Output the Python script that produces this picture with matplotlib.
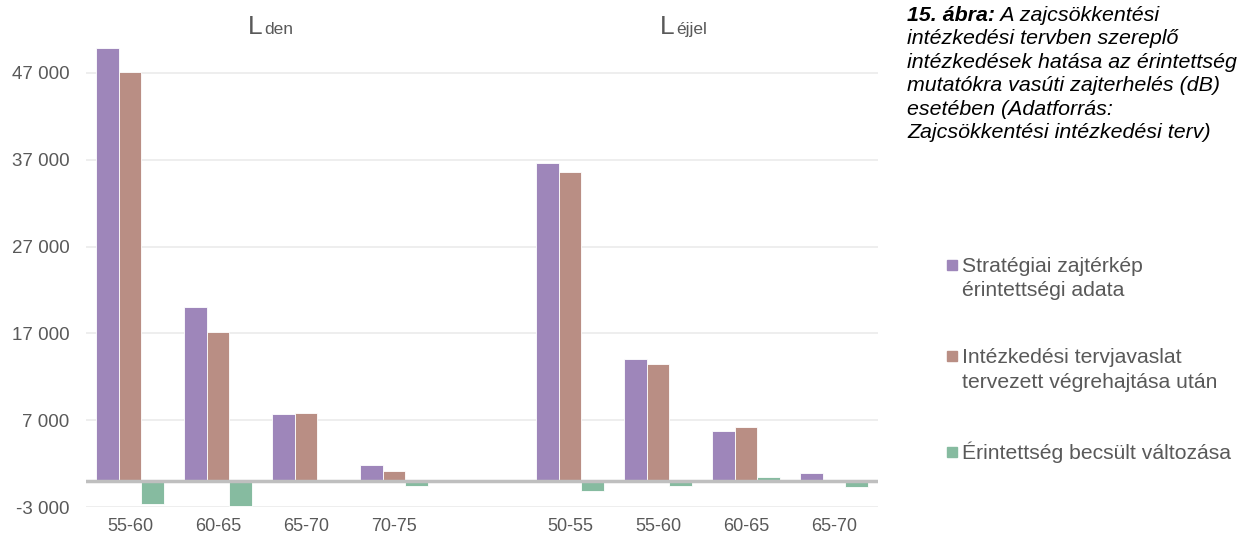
import numpy as np
import matplotlib.pyplot as plt
from matplotlib.patches import Rectangle

plt.rcParams['font.family'] = ['Liberation Sans', 'DejaVu Sans']

# adatok
kategoriak = ['55-60', '60-65', '65-70', '70-75', '', '50-55', '55-60', '60-65', '65-70']
strategiai = [49900, 20000, 7700, 1800, np.nan, 36600, 14100, 5700, 900]
intezkedesi = [47100, 17100, 7800, 1100, np.nan, 35600, 13500, 6200, 0]
valtozas = [-2700, -2900, 0, -600, np.nan, -1100, -600, 500, -700]
y_tickek = [-3000, 7000, 17000, 27000, 37000, 47000]

nevek = ['Stratégiai zajtérkép\nérintettségi adata',
         'Intézkedési tervjavaslat\ntervezett végrehajtása után',
         'Érintettség becsült változása']
szinek = ['#9e86ba', '#b98e84', '#86bba0']
szurke = '#595959'

fig = plt.figure(figsize=(12.37, 5.37), dpi=100)
ax = fig.add_axes([86/1237, 30/537, 792/1237, 460.2/537])

x = np.arange(len(kategoriak))
w = 0.26
for i, (ert, szin) in enumerate(zip([strategiai, intezkedesi, valtozas], szinek)):
    ax.bar(x + (i - 1) * w, ert, width=w, color=szin, edgecolor='white',
           linewidth=0.6, zorder=2)

ax.set_xlim(-0.5, len(kategoriak) - 0.5)
ax.set_ylim(-3000, 50000)
ax.set_yticks(y_tickek)
ax.set_yticklabels([f'{v:,}'.replace(',', ' ') for v in y_tickek])
ax.set_xticks(x)
ax.set_xticklabels(kategoriak)
ax.tick_params(length=0, labelsize=13.5, labelcolor=szurke)
ax.tick_params(axis='y', pad=12)
ax.tick_params(axis='x', labelsize=13, pad=8)
for s in ax.spines.values():
    s.set_visible(False)
ax.grid(axis='y', color='#ebebeb', linewidth=1.2, zorder=0)
ax.axhline(0, color='#bfbfbf', linewidth=2.5, zorder=3)

# csoport cimek
for xpos, also in [(1.34, 'den'), (6.02, 'éjjel')]:
    t = ax.text(xpos, 51470, 'L', fontsize=19, color=szurke, ha='left',
                va='baseline', clip_on=False)
    ax.annotate(also, xy=(1, 51470), xycoords=(t, 'data'), xytext=(1.5, 0),
                textcoords='offset points', fontsize=12.5, color=szurke,
                ha='left', va='baseline', annotation_clip=False)

# abra felirat
bal = 907 / 1237
t = fig.text(bal, 1 - 21/537, '15. ábra:', fontsize=15.4, style='italic',
             weight='bold', ha='left', va='baseline')
ax.annotate(' A zajcsökkentési', xy=(1, 1 - 21/537),
            xycoords=(t, 'figure fraction'), fontsize=15.4, style='italic',
            ha='left', va='baseline', annotation_clip=False)
sorok = ['intézkedési tervben szereplő',
         'intézkedések hatása az érintettségi',
         'mutatókra vasúti zajterhelés (dB)',
         'esetében (Adatforrás:',
         'Zajcsökkentési intézkedési terv)']
for k, sor in enumerate(sorok):
    fig.text(bal, 1 - (21 + 23.4 * (k + 1))/537, sor, fontsize=15.4,
             style='italic', ha='left', va='baseline')

# jelmagyarazat
for nev, szin, yb in zip(nevek, szinek, [272, 363, 459]):
    fig.patches.append(Rectangle((947/1237, 1 - (yb - 2)/537), 10/1237, 10/537,
                                 transform=fig.transFigure, color=szin))
    for k, sor in enumerate(nev.split('\n')):
        fig.text(962/1237, 1 - (yb + 24.5 * k)/537, sor, fontsize=15.2,
                 color=szurke, ha='left', va='baseline')

fig.savefig('out.png', dpi=100)
